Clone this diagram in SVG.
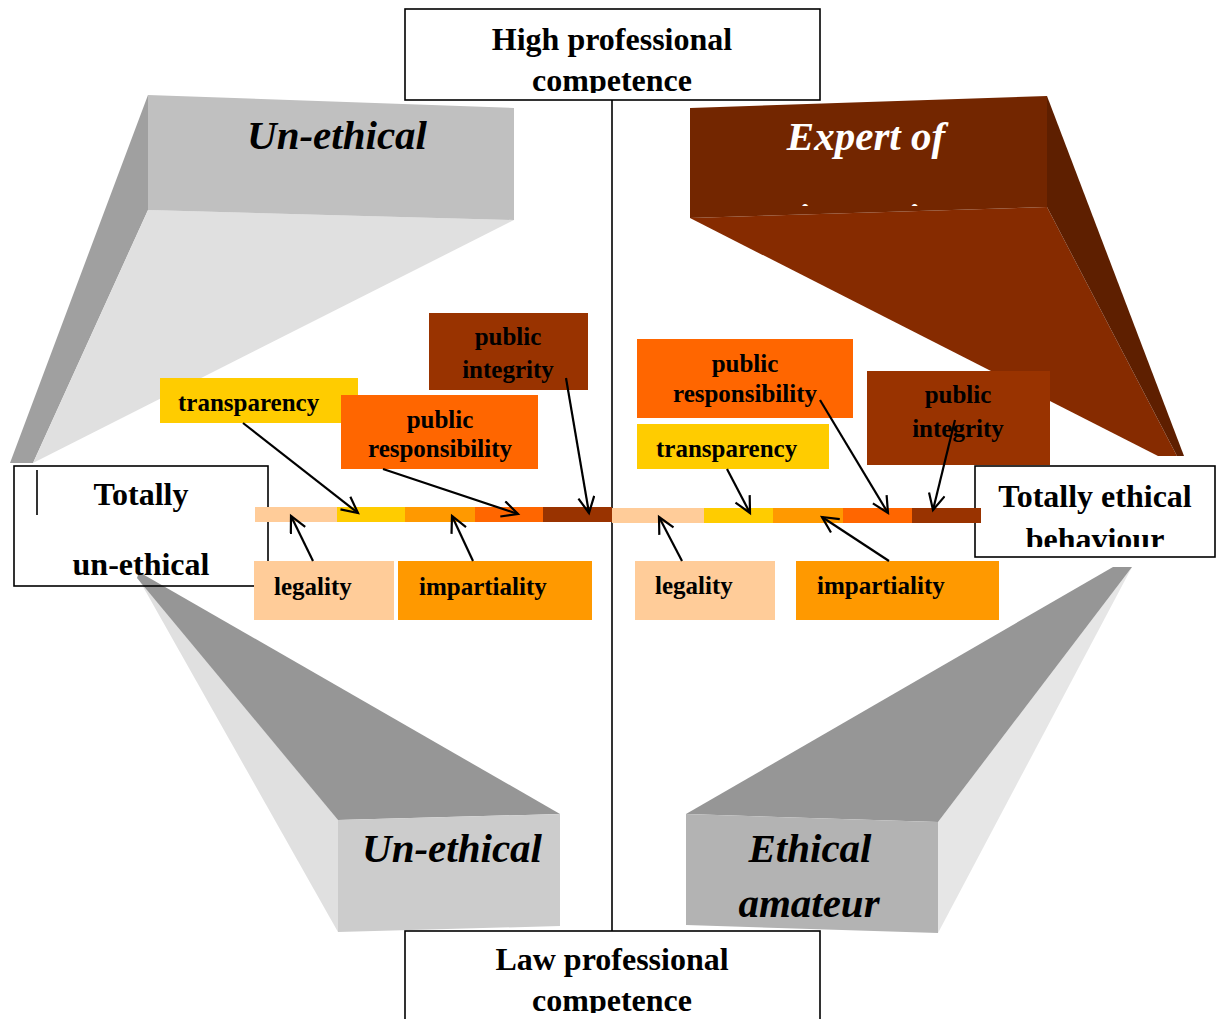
<svg xmlns="http://www.w3.org/2000/svg" width="1216" height="1019" viewBox="0 0 1216 1019">
<style>
.t{font-family:"Liberation Serif","Times New Roman",serif;font-weight:bold;fill:#000}
.big{font-size:32px}
.lab{font-size:25px}
.it{font-family:"Liberation Serif","Times New Roman",serif;font-weight:bold;font-style:italic;font-size:41px}
.box{fill:#fff;stroke:#000;stroke-width:1.6}
.arr{stroke:#000;stroke-width:2.2;fill:none;marker-end:url(#ah)}
</style>
<defs>
<marker id="ah" markerUnits="userSpaceOnUse" markerWidth="20" markerHeight="20" refX="17" refY="9" orient="auto">
<path d="M1,1 L17,9 L1,17" fill="none" stroke="#000" stroke-width="2.2"/>
</marker>
<clipPath id="cTop"><rect x="405" y="9" width="415" height="84"/></clipPath>
<clipPath id="cBot"><rect x="405" y="931" width="415" height="82"/></clipPath>
<clipPath id="cRight"><rect x="975" y="466" width="240" height="81"/></clipPath>
<clipPath id="cExp"><rect x="690" y="96" width="357" height="110"/></clipPath>
</defs>

<g id="shape-top-left">
<polygon points="148,95 148,210 33,463 10,463" fill="#a0a0a0"/>
<polygon points="148,210 514,220 33,463" fill="#e0e0e0"/>
<polygon points="148,95 514,108 514,220 148,210" fill="#c0c0c0"/>
<text class="it" x="337" y="149" text-anchor="middle">Un-ethical</text>
</g>

<g id="shape-top-right">
<polygon points="690,218 1047,207 1177,456 1158,456" fill="#862b00"/>
<polygon points="1047,96 1184,456 1177,456 1047,207" fill="#5e1f00"/>
<polygon points="690,108 1047,96 1047,207 690,218" fill="#732600"/>
<text class="it" x="866" y="150" text-anchor="middle" fill="#fff">Expert of</text>
<text class="it" x="797" y="232" fill="#fff" clip-path="url(#cExp)">impunity</text>
</g>

<g id="shape-bottom-left">
<polygon points="137,576 338,820 338,932" fill="#e0e0e0"/>
<polygon points="139,572 560,814 338,820 137,578" fill="#969696"/>
<polygon points="338,820 560,814 560,926 338,932" fill="#cccccc"/>
<text class="it" x="452" y="862" text-anchor="middle">Un-ethical</text>
</g>

<g id="shape-bottom-right">
<polygon points="1132,567 938,822 938,933" fill="#e6e6e6"/>
<polygon points="686,814 1113,567 1132,567 938,822" fill="#969696"/>
<polygon points="686,814 938,822 938,933 686,925" fill="#b3b3b3"/>
<text class="it" x="810" y="862" text-anchor="middle">Ethical</text>
<text class="it" x="809" y="917" text-anchor="middle">amateur</text>
</g>

<g id="axis">
<line x1="612" y1="100" x2="612" y2="931" stroke="#000" stroke-width="1.6"/>
</g>

<g id="node-high">
<rect class="box" x="405" y="9" width="415" height="91"/>
<g clip-path="url(#cTop)">
<text class="t big" x="612" y="50" text-anchor="middle">High professional</text>
<text class="t big" x="612" y="91" text-anchor="middle">competence</text>
</g>
</g>

<g id="node-low">
<rect class="box" x="405" y="931" width="415" height="100"/>
<g clip-path="url(#cBot)">
<text class="t big" x="612" y="970" text-anchor="middle">Law professional</text>
<text class="t big" x="612" y="1011" text-anchor="middle">competence</text>
</g>
</g>

<g id="node-totally-unethical">
<rect x="14" y="466" width="254" height="120" fill="none" stroke="#000" stroke-width="1.6"/>
<line x1="37" y1="470" x2="37" y2="515" stroke="#000" stroke-width="1.6"/>
<text class="t big" x="141" y="505" text-anchor="middle">Totally</text>
<text class="t big" x="141" y="575" text-anchor="middle">un-ethical</text>
</g>

<g id="node-totally-ethical">
<rect class="box" x="975" y="466" width="240" height="91"/>
<g clip-path="url(#cRight)">
<text class="t big" x="1095" y="507" text-anchor="middle">Totally ethical</text>
<text class="t big" x="1095" y="550" text-anchor="middle">behaviour</text>
</g>
</g>

<g id="bar-left">
<rect x="255" y="507" width="82" height="15" fill="#ffcc99"/>
<rect x="337" y="507" width="68" height="15" fill="#ffcc00"/>
<rect x="405" y="507" width="70" height="15" fill="#ff9900"/>
<rect x="475" y="507" width="68" height="15" fill="#ff6600"/>
<rect x="543" y="507" width="69" height="15" fill="#993300"/>
</g>
<g id="bar-right">
<rect x="612" y="508" width="92" height="15" fill="#ffcc99"/>
<rect x="704" y="508" width="69" height="15" fill="#ffcc00"/>
<rect x="773" y="508" width="70" height="15" fill="#ff9900"/>
<rect x="843" y="508" width="69" height="15" fill="#ff6600"/>
<rect x="912" y="508" width="69" height="15" fill="#993300"/>
</g>

<g id="label-left-transparency">
<rect x="160" y="378" width="198" height="45" fill="#ffcc00"/>
<text class="t lab" x="178" y="411">transparency</text>
</g>
<g id="label-left-integrity">
<rect x="429" y="313" width="159" height="77" fill="#993300"/>
<text class="t lab" x="508" y="345" text-anchor="middle">public</text>
<text class="t lab" x="508" y="378" text-anchor="middle">integrity</text>
</g>
<g id="label-left-responsibility">
<rect x="341" y="395" width="197" height="74" fill="#ff6600"/>
<text class="t lab" x="440" y="428" text-anchor="middle">public</text>
<text class="t lab" x="440" y="457" text-anchor="middle">responsibility</text>
</g>
<g id="label-left-legality">
<rect x="254" y="561" width="140" height="59" fill="#ffcc99"/>
<text class="t lab" x="274" y="595">legality</text>
</g>
<g id="label-left-impartiality">
<rect x="398" y="561" width="194" height="59" fill="#ff9900"/>
<text class="t lab" x="419" y="595">impartiality</text>
</g>

<g id="label-right-responsibility">
<rect x="637" y="339" width="216" height="79" fill="#ff6600"/>
<text class="t lab" x="745" y="372" text-anchor="middle">public</text>
<text class="t lab" x="745" y="402" text-anchor="middle">responsibility</text>
</g>
<g id="label-right-transparency">
<rect x="637" y="424" width="192" height="45" fill="#ffcc00"/>
<text class="t lab" x="656" y="457">transparency</text>
</g>
<g id="label-right-integrity">
<rect x="867" y="371" width="183" height="94" fill="#993300"/>
<text class="t lab" x="958" y="403" text-anchor="middle">public</text>
<text class="t lab" x="958" y="437" text-anchor="middle">integrity</text>
</g>
<g id="label-right-legality">
<rect x="635" y="561" width="140" height="59" fill="#ffcc99"/>
<text class="t lab" x="655" y="594">legality</text>
</g>
<g id="label-right-impartiality">
<rect x="796" y="561" width="203" height="59" fill="#ff9900"/>
<text class="t lab" x="817" y="594">impartiality</text>
</g>

<g id="connectors">
<line class="arr" x1="243" y1="423" x2="358" y2="513"/>
<line class="arr" x1="383" y1="469" x2="518" y2="514"/>
<line class="arr" x1="566" y1="378" x2="589" y2="513"/>
<line class="arr" x1="313" y1="561" x2="291" y2="516"/>
<line class="arr" x1="473" y1="561" x2="452" y2="516"/>
<line class="arr" x1="727" y1="469" x2="750" y2="513"/>
<line class="arr" x1="820" y1="400" x2="888" y2="513"/>
<line class="arr" x1="955" y1="420" x2="933" y2="510"/>
<line class="arr" x1="682" y1="561" x2="659" y2="517"/>
<line class="arr" x1="889" y1="561" x2="822" y2="517"/>
</g>
</svg>
